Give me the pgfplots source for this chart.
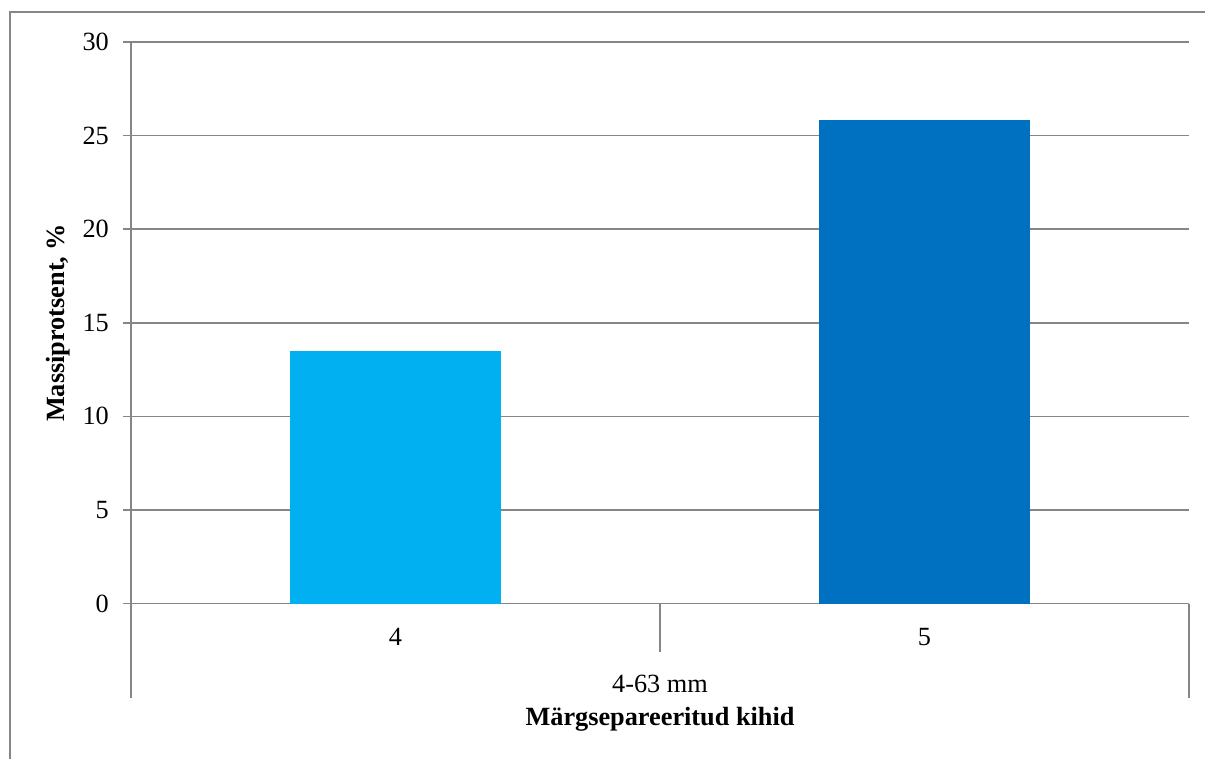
\documentclass[border=0pt]{standalone}
\usepackage{pgfplots}
\pgfplotsset{compat=1.18}
\usepackage{fontspec}
\setmainfont{Liberation Serif}

\definecolor{gridgray}{HTML}{868686}
\definecolor{barlight}{HTML}{00B0F0}
\definecolor{bardark}{HTML}{0070C0}

\begin{document}
\begin{tikzpicture}
\begin{axis}[
  scale only axis,
  width=529.5bp, height=281bp,
  xmin=-0.5, xmax=1.5,
  ymin=0, ymax=30,
  ytick={0,5,...,30},
  xtick={0,1},
  xticklabels={4,5},
  axis x line*=bottom,
  axis y line*=left,
  axis line style={gridgray, line width=0.75bp},
  ymajorgrids,
  grid style={gridgray, line width=0.75bp},
  tick align=outside,
  major tick length=4bp,
  ytick style={gridgray, line width=0.75bp},
  xtick style={draw=none},
  font=\fontsize{13.2}{15.5}\selectfont,
  /pgf/number format/assume math mode=true,
  yticklabel style={anchor=east, xshift=-3.5bp},
  xticklabel style={anchor=center, yshift=-16.5bp+\pgfkeysvalueof{/pgfplots/major tick length}},
  ylabel={\textbf{Massiprotsent, \%}},
  ylabel style={at={(rel axis cs:-0.0689,0.5)}, anchor=center, rotate=0},
  xlabel={\textbf{Märgsepareeritud kihid}},
  xlabel style={at={(rel axis cs:0.5,-0.2064)}, anchor=center},
  clip=false,
  bar width=106bp,
]
  \addplot[ybar, fill=barlight, draw=none, bar shift=0pt] coordinates {(0,13.5)};
  \addplot[ybar, fill=bardark, draw=none, bar shift=0pt] coordinates {(1,25.85)};

  % multi-level category axis dividers
  \draw[gridgray, line width=0.75bp] (rel axis cs:0,0) -- (rel axis cs:0,-0.16904);
  \draw[gridgray, line width=0.75bp] (rel axis cs:0.5,0) -- (rel axis cs:0.5,-0.0854);
  \draw[gridgray, line width=0.75bp] (rel axis cs:1,0) -- (rel axis cs:1,-0.16904);
  \node[anchor=center] at (rel axis cs:0.5,-0.1423) {4-63 mm};

  % chart area frame
  \draw[gridgray, line width=0.9bp] (rel axis cs:-0.11426,-0.27758) -- (rel axis cs:-0.11426,1.05338) -- (rel axis cs:1.01511,1.05338);
  \useasboundingbox (rel axis cs:-0.12370,-0.27758) rectangle (rel axis cs:1.01511,1.07473);
\end{axis}
\end{tikzpicture}
\end{document}
